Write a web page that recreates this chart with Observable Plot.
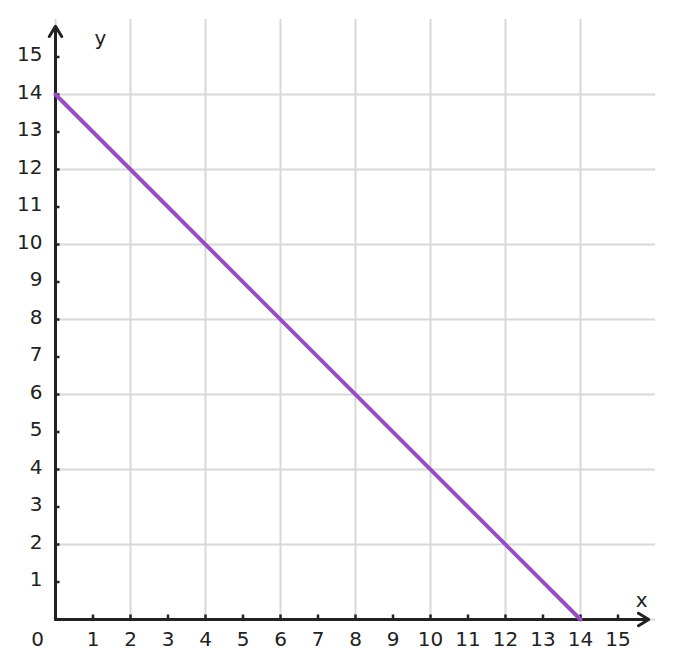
<!DOCTYPE html>
<html>
<head>
<meta charset="utf-8">
<script src="https://cdn.jsdelivr.net/npm/d3@7"></script>
<script src="https://cdn.jsdelivr.net/npm/@observablehq/plot@0.6"></script>
<style>
  html, body { margin: 0; padding: 0; background: #fff; }
</style>
</head>
<body>
<div id="chart"></div>
<script>
// Line data
const lineX = [0, 14];
const lineY = [14, 0];

// Tick values
const xTicks = [1, 2, 3, 4, 5, 6, 7, 8, 9, 10, 11, 12, 13, 14, 15];
const yTicks = [1, 2, 3, 4, 5, 6, 7, 8, 9, 10, 11, 12, 13, 14, 15];
const gridX = [0, 2, 4, 6, 8, 10, 12, 14];
const gridY = [0, 2, 4, 6, 8, 10, 12, 14];

// Axis labels
const xLabel = "x";
const yLabel = "y";
const originLabel = "0";

const lineData = lineX.map((x, i) => ({x, y: lineY[i]}));
const axesArrows = [
  {x1: 0, y1: 0, x2: 15.82, y2: 0},
  {x1: 0, y1: 0, x2: 0, y2: 15.82}
];

const ink = "#222";
const fs = 20;
const chart = Plot.plot({
  width: 674,
  height: 668,
  marginLeft: 55,
  marginRight: 19,
  marginTop: 19,
  marginBottom: 49,
  style: {fontFamily: "DejaVu Sans", fontSize: fs + "px", color: ink, background: "#fff"},
  x: {domain: [0, 16], axis: null},
  y: {domain: [0, 16], axis: null},
  marks: [
    Plot.gridX(gridX, {stroke: "#d8d8d8", strokeOpacity: 1, strokeWidth: 2}),
    Plot.gridY(gridY, {stroke: "#d8d8d8", strokeOpacity: 1, strokeWidth: 2}),
    Plot.ruleY(yTicks, {x1: 0, x2: 0.12, stroke: ink, strokeWidth: 2.5}),
    Plot.ruleX(xTicks, {y1: 0, y2: 0.12, stroke: ink, strokeWidth: 2.5}),
    Plot.arrow(axesArrows, {x1: "x1", y1: "y1", x2: "x2", y2: "y2", stroke: ink, strokeWidth: 3, headLength: 6, headAngle: 62}),
    Plot.line(lineData, {x: "x", y: "y", stroke: "#964fc0", strokeWidth: 4}),
    Plot.axisY(yTicks, {tickSize: 0, tickPadding: 13, fontSize: fs, fill: ink, label: null, dy: -2}),
    Plot.axisX(xTicks, {tickSize: 0, tickPadding: 12, fontSize: fs, fill: ink, label: null}),
    Plot.text([originLabel], {x: 0, y: 0, dx: -18, dy: 20, fontSize: fs, fill: ink}),
    Plot.text([yLabel], {x: 1.2, y: 15.5, fontSize: fs, fill: ink}),
    Plot.text([xLabel], {x: 15.63, y: 0.5, fontSize: fs, fill: ink})
  ]
});
document.getElementById("chart").append(chart);
</script>
</body>
</html>
